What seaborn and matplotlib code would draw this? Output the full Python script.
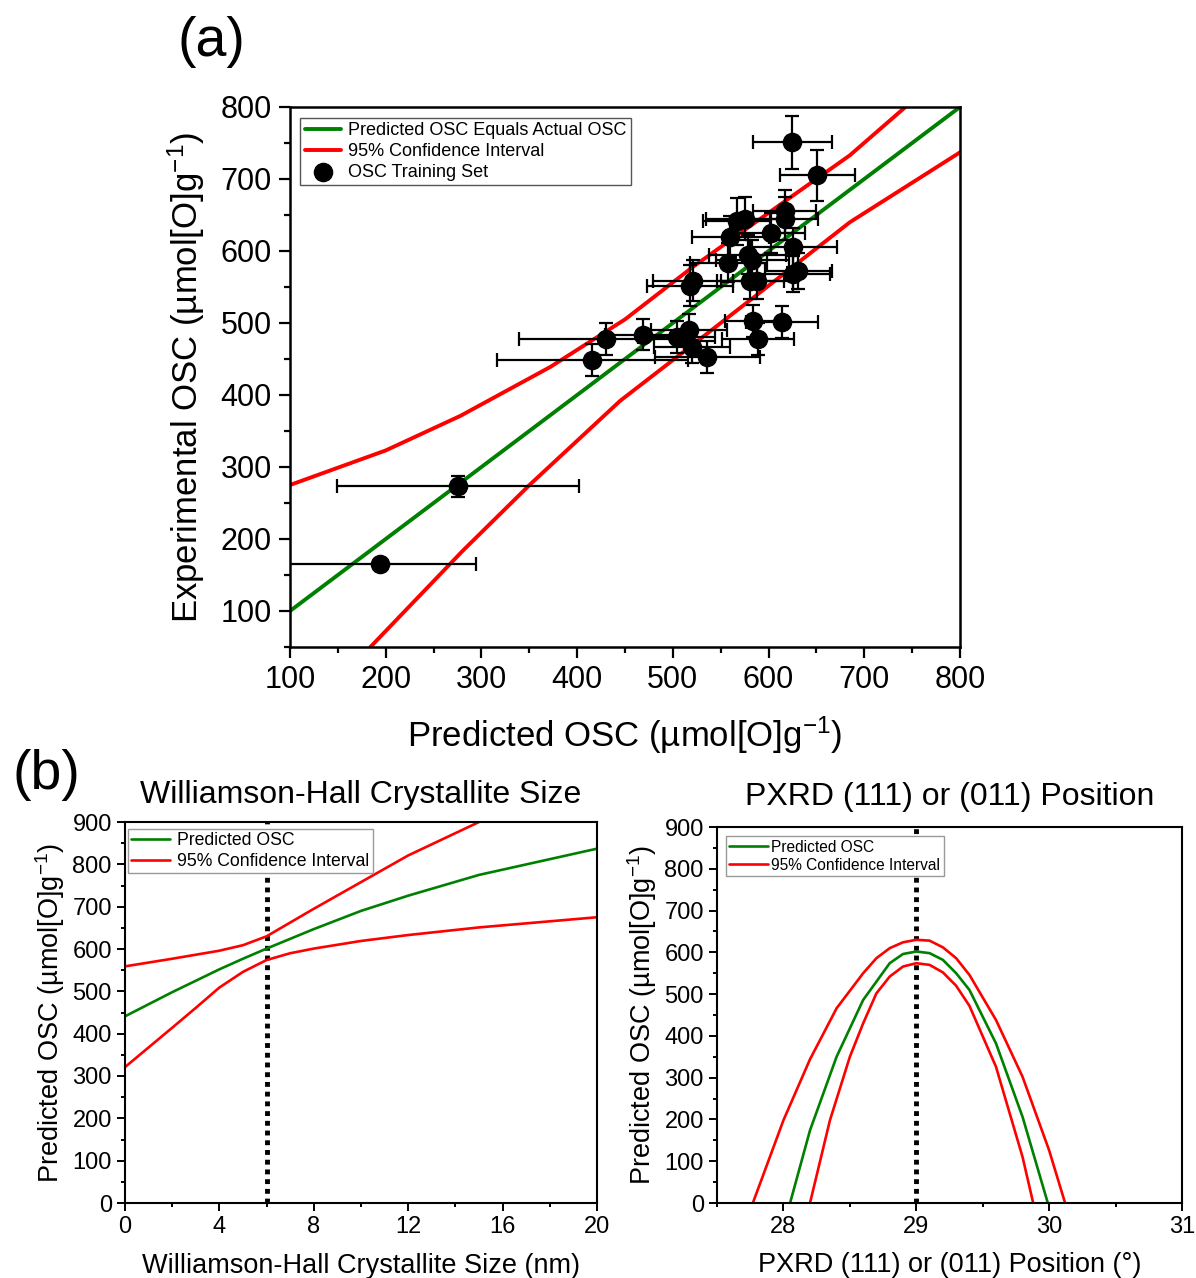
import matplotlib
matplotlib.use('Agg')
import numpy as np
import pandas as pd
import seaborn as sns
import matplotlib.pyplot as plt
from matplotlib.ticker import MultipleLocator

# ---------------- data: panel (a) ----------------
ident_x = [100, 800]
ident_y = [100, 800]
ci_up_x = [100, 200, 278, 372, 450, 521, 617, 685, 743, 800]
ci_up_y = [275, 323, 371, 439, 505, 578, 669, 733, 800, 866]
ci_lo_x = [184, 280, 351, 445, 520, 580, 685, 800]
ci_lo_y = [50, 183, 276, 392, 469, 531, 640, 737]

pred_osc = [625, 651, 617, 617, 567, 575, 560, 603, 626, 578, 583, 558, 631, 626, 581, 588,
            521, 518, 584, 614, 589, 517, 504, 469, 430, 416, 520, 536, 275.5, 194]
exp_osc = [751, 705, 655, 645, 641, 645, 620, 625, 605, 595, 588, 584, 572, 568, 559, 559,
           559, 552, 503, 501, 478, 490, 481, 484, 478, 449, 466, 453, 273, 165]
pred_err = [41, 39, 33, 35, 35, 40, 40, 35, 45, 40, 38, 40, 35, 38, 35, 38,
            42, 45, 30, 38, 38, 40, 40, 40, 91, 100, 40, 55, 126, 100]
exp_err = [37, 35, 30, 30, 33, 30, 28, 28, 27, 27, 27, 27, 25, 25, 25, 25,
           28, 28, 22, 22, 22, 22, 22, 22, 22, 22, 22, 22, 14, 0]

# ---------------- data: panel (b) left ----------------
wh_x = [0, 2, 4, 5, 6, 8, 10, 12, 15, 20]
wh_pred = [441, 498, 552, 577, 601, 647, 690, 726, 775, 837]
wh_up_x = [0, 2, 4, 5, 6, 8, 10, 12, 15, 20]
wh_up = [559, 577, 596, 609, 630, 695, 758, 821, 900, 1020]
wh_lo_x = [0, 2, 3, 4, 5, 6, 7, 8, 10, 12, 15, 20]
wh_lo = [321, 414, 461, 509, 546, 574, 590, 601, 619, 633, 651, 675]

# ---------------- data: panel (b) right ----------------
px_x = [28.05, 28.2, 28.4, 28.6, 28.8, 28.9, 29.0, 29.1, 29.2, 29.3, 29.4, 29.6, 29.8, 29.99]
px_pred = [0, 174, 350, 486, 574, 596, 602, 598, 582, 550, 510, 382, 206, 0]
px_up_x = [27.77, 28.0, 28.2, 28.4, 28.6, 28.7, 28.8, 28.9, 29.0, 29.1, 29.2, 29.3, 29.4, 29.6, 29.8, 30.0, 30.12]
px_up = [0, 198, 344, 466, 550, 586, 610, 624, 630, 628, 612, 586, 546, 438, 302, 126, 0]
px_lo_x = [28.2, 28.35, 28.5, 28.6, 28.7, 28.8, 28.9, 29.0, 29.1, 29.2, 29.3, 29.4, 29.6, 29.8, 29.88]
px_lo = [0, 198, 350, 430, 502, 542, 566, 574, 570, 552, 520, 472, 326, 110, 0]

GREEN = '#008000'
RED = '#ff0000'

sns.set_style('ticks')
plt.rcParams['font.family'] = ['Liberation Sans', 'DejaVu Sans']
plt.rcParams['mathtext.default'] = 'regular'
for k in ('text.color', 'axes.labelcolor', 'xtick.color', 'ytick.color', 'axes.edgecolor'):
    plt.rcParams[k] = 'black'

fig = plt.figure(figsize=(11.96, 12.78), dpi=100)

# ================= panel (a) =================
axA = fig.add_axes([290/1196, 1-647/1278, 670/1196, 540/1278])
sns.lineplot(x=ident_x, y=ident_y, color=GREEN, lw=2.8, ax=axA,
             label='Predicted OSC Equals Actual OSC', sort=False)
sns.lineplot(x=ci_up_x, y=ci_up_y, color=RED, lw=2.8, ax=axA,
             label='95% Confidence Interval', sort=False)
sns.lineplot(x=ci_lo_x, y=ci_lo_y, color=RED, lw=2.8, ax=axA, sort=False)
axA.errorbar(pred_osc, exp_osc, xerr=pred_err, yerr=exp_err, fmt='none',
             ecolor='black', elinewidth=1.6, capsize=5, capthick=1.6, zorder=3)
sns.scatterplot(x=pred_osc, y=exp_osc, s=170, color='black', edgecolor='black',
                ax=axA, zorder=4, label='OSC Training Set')
axA.set_xlim(100, 800)
axA.set_ylim(50, 800)
axA.xaxis.set_major_locator(MultipleLocator(100))
axA.xaxis.set_minor_locator(MultipleLocator(50))
axA.yaxis.set_major_locator(MultipleLocator(100))
axA.yaxis.set_minor_locator(MultipleLocator(50))
axA.tick_params(which='major', direction='out', length=8, width=1.6, labelsize=22, pad=5)
axA.tick_params(which='minor', direction='out', length=4, width=1.6)
for sp in axA.spines.values():
    sp.set_linewidth(1.8)
axA.set_xlabel('Predicted OSC (µmol[O]g$^{-1}$)', fontsize=25, labelpad=14)
axA.set_ylabel('Experimental OSC (µmol[O]g$^{-1}$)', fontsize=25, labelpad=10)
legA = axA.legend(loc='upper left', bbox_to_anchor=(0.015, 0.98), borderaxespad=0,
                  fontsize=13, frameon=True, fancybox=False, edgecolor='#555555', framealpha=1,
                  handlelength=2.0, handletextpad=0.4, borderpad=0.25, labelspacing=0.2)
legA.get_frame().set_linewidth(1.0)

fig.text(211/1196, 1-42/1278, '(a)', fontsize=40, ha='center', va='center')
fig.text(46/1196, 1-775/1278, '(b)', fontsize=40, ha='center', va='center')

# ================= panel (b) left =================
axL = fig.add_axes([125/1196, 1-1203/1278, 472/1196, 381/1278])
sns.lineplot(x=wh_x, y=wh_pred, color=GREEN, lw=1.9, ax=axL, label='Predicted OSC', sort=False)
sns.lineplot(x=wh_up_x, y=wh_up, color=RED, lw=1.9, ax=axL, label='95% Confidence Interval', sort=False)
sns.lineplot(x=wh_lo_x, y=wh_lo, color=RED, lw=1.9, ax=axL, sort=False)
axL.axvline(6, color='black', lw=3.5, linestyle=(0, (1, 1)), zorder=1)
axL.set_xlim(0, 20)
axL.set_ylim(0, 900)
axL.xaxis.set_major_locator(MultipleLocator(4))
axL.xaxis.set_minor_locator(MultipleLocator(2))
axL.yaxis.set_major_locator(MultipleLocator(100))
axL.yaxis.set_minor_locator(MultipleLocator(50))
axL.set_title('Williamson-Hall Crystallite Size', fontsize=23, pad=14)
axL.set_xlabel('Williamson-Hall Crystallite Size (nm)', fontsize=19.5, labelpad=11)
axL.set_ylabel('Predicted OSC (µmol[O]g$^{-1}$)', fontsize=19.5, labelpad=4)
legL = axL.legend(loc='upper left', bbox_to_anchor=(0.006, 0.982), borderaxespad=0,
                  fontsize=12.7, frameon=True, fancybox=False, edgecolor='#999999', framealpha=1,
                  handlelength=2.2, handletextpad=0.4, borderpad=0.2, labelspacing=0.2)

# ================= panel (b) right =================
axR = fig.add_axes([717/1196, 1-1203/1278, 465/1196, 376/1278])
sns.lineplot(x=px_x, y=px_pred, color=GREEN, lw=1.9, ax=axR, label='Predicted OSC', sort=False)
sns.lineplot(x=px_up_x, y=px_up, color=RED, lw=1.9, ax=axR, label='95% Confidence Interval', sort=False)
sns.lineplot(x=px_lo_x, y=px_lo, color=RED, lw=1.9, ax=axR, sort=False)
axR.axvline(29, color='black', lw=3.5, linestyle=(0, (1, 1)), zorder=1)
axR.set_xlim(27.5, 31)
axR.set_ylim(0, 900)
axR.xaxis.set_major_locator(MultipleLocator(1))
axR.xaxis.set_minor_locator(MultipleLocator(0.5))
axR.yaxis.set_major_locator(MultipleLocator(100))
axR.yaxis.set_minor_locator(MultipleLocator(50))
axR.set_title('PXRD (111) or (011) Position', fontsize=23, pad=16)
axR.set_xlabel('PXRD (111) or (011) Position (°)', fontsize=19.5, labelpad=10)
axR.set_ylabel('Predicted OSC (µmol[O]g$^{-1}$)', fontsize=19.5, labelpad=4)
legR = axR.legend(loc='upper left', bbox_to_anchor=(0.02, 0.975), borderaxespad=0,
                  fontsize=11.2, frameon=True, fancybox=False, edgecolor='#999999', framealpha=1,
                  handlelength=2.5, handletextpad=0.2, borderpad=0.2, labelspacing=0.2)

for ax in (axL, axR):
    ax.tick_params(which='major', direction='out', length=6, width=1.4, labelsize=17)
    ax.tick_params(which='minor', direction='out', length=3, width=1.4)
    for sp in ax.spines.values():
        sp.set_linewidth(1.5)
    ax.get_legend().get_frame().set_linewidth(1.0)

fig.savefig('out.png', dpi=100)
